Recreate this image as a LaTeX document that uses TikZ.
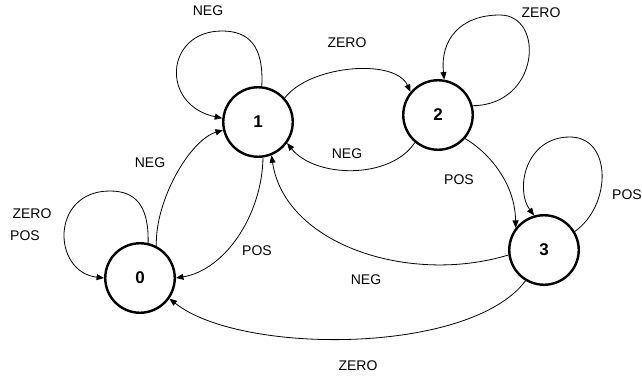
\documentclass[tikz,border=0pt]{standalone}
\usepackage{fontspec}
\setmainfont{Liberation Sans}
\usetikzlibrary{arrows.meta}
\begin{document}
\begin{tikzpicture}[x=1pt,y=-1pt,
  state/.style={circle,draw,line width=2.4pt,minimum size=69.5pt,inner sep=0pt,
    font=\fontsize{17}{20}\selectfont\bfseries},
  lbl/.style={inner sep=0pt,font=\fontsize{14}{16}\selectfont},
  edge/.style={line width=0.8pt,-{Triangle[length=7.5pt,width=6pt]}}]
\useasboundingbox (0,0) rectangle (642,377);
\node[state] (n0) at (140,278) {0};
\node[state] (n1) at (258,122) {1};
\node[state] (n2) at (438,115) {2};
\node[state] (n3) at (544,250) {3};
% labels
\node[lbl] (l1) at (208,11) {NEG};
\node[lbl] (l2) at (347,43) {ZERO};
\node[lbl] (l3) at (541,13) {ZERO};
\node[lbl] (l4) at (347,154) {NEG};
\node[lbl] (l5) at (459,180) {POS};
\node[lbl] (l6) at (627,195) {POS};
\node[lbl] (l7) at (150,163) {NEG};
\node[lbl] (l8) at (32,214) {ZERO};
\node[lbl] (l9) at (25,236) {POS};
\node[lbl] (l10) at (257,251) {POS};
\node[lbl] (l11) at (366,280) {NEG};
\node[lbl] (l12) at (358,366) {ZERO};
% edges
\draw[edge] (n1.84) .. controls (264,45) and (248,31) .. (222,31)
  .. controls (165,31) and (160,105) .. (n1.174);
\draw[edge] (n1.42) .. controls (310,65) and (395,58) .. (n2.140);
\draw[edge] (n2.15) .. controls (540,105) and (545,15) .. (500,15)
  .. controls (460,15) and (440,40) .. (n2.80);
\draw[edge] (n2.230) .. controls (390,180) and (315,178) .. (n1.324);
\draw[edge] (n2.319) .. controls (485,150) and (515,180) .. (n3.142);
\draw[edge] (n3.31) .. controls (612,205) and (612,137) .. (570,137)
  .. controls (525,137) and (515,190) .. (n3.106);
\draw[edge] (n3.188) .. controls (410,285) and (285,245) .. (n1.292);
\draw[edge] (n3.239) .. controls (470,355) and (240,355) .. (n0.325);
\draw[edge] (n1.278) .. controls (262,215) and (225,270) .. (n0.0);
\draw[edge] (n0.63) .. controls (155,200) and (190,140) .. (n1.193);
\draw[edge] (n0.77) .. controls (149,205) and (135,191) .. (110,191)
  .. controls (50,191) and (52,272) .. (n0.180);
\end{tikzpicture}
\end{document}
